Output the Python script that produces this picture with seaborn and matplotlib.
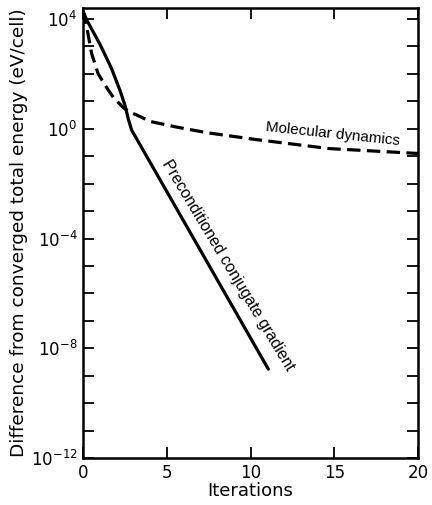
import numpy as np
import pandas as pd
import seaborn as sns
import matplotlib.pyplot as plt
from matplotlib.ticker import FixedLocator, FuncFormatter

# Values (energy difference in eV/cell)
cg_iter = [0.0, 0.22, 1.0, 1.7, 2.21, 2.51, 2.71, 2.9, 11.06]
cg_energy = [2.0e4, 9.3e3, 1.26e3, 1.6e2, 2.5e1, 7.1e0, 2.24e0, 9.1e-1,
             1.74e-9]

md_iter = [0.0, 0.22, 0.52, 0.91, 1.41, 1.81, 2.41, 2.8, 3.2, 4.0, 5.6, 7.4,
           10.4, 14.7, 20.0]
md_energy = [2.0e4, 5.4e3, 5.5e2, 1.0e2, 3.2e1, 1.4e1, 5.9e0, 4.0e0, 3.2e0,
             1.86e0, 1.15e0, 7.2e-1, 4.0e-1, 1.9e-1, 1.26e-1]

y_label_decades = [4, 0, -4, -8, -12]

cg = pd.DataFrame({'Iterations': cg_iter, 'Energy': cg_energy})
md = pd.DataFrame({'Iterations': md_iter, 'Energy': md_energy})

sns.set_style('ticks')
plt.rcParams['font.family'] = ['DejaVu Sans']
plt.rcParams['text.color'] = 'black'
plt.rcParams['axes.labelcolor'] = 'black'
plt.rcParams['xtick.color'] = 'black'
plt.rcParams['ytick.color'] = 'black'

fig = plt.figure(figsize=(4.32, 5.05), dpi=100)
ax = fig.add_axes([0.192, 0.093, 0.776, 0.891])

sns.lineplot(data=md, x='Iterations', y='Energy', ax=ax, color='black',
             linewidth=2.3)
ax.lines[-1].set_dashes([4.2, 2.0])
sns.lineplot(data=cg, x='Iterations', y='Energy', ax=ax, color='black',
             linewidth=2.3)

ax.set_yscale('log')
ax.set_xlim(0, 20)
ax.set_ylim(1e-12, 10 ** 4.4)
ax.set_xticks([0, 5, 10, 15, 20])
ax.yaxis.set_major_locator(FixedLocator([10.0 ** k for k in range(-12, 5)]))
ax.yaxis.set_minor_locator(FixedLocator([]))
ax.yaxis.set_major_formatter(FuncFormatter(
    lambda v, p: '$10^{%d}$' % round(np.log10(v))
    if round(np.log10(v)) in y_label_decades else ''))

ax.tick_params(direction='in', length=8, width=1.3, top=True, right=True,
               labelsize=12, pad=4)
for s in ax.spines.values():
    s.set_linewidth(1.8)
    s.set_color('black')

ax.set_xlabel('Iterations', fontsize=13, labelpad=0)
ax.set_ylabel('Difference from converged total energy (eV/cell)',
              fontsize=13.3, labelpad=2)

ax.text(14.9, 10 ** -0.2, 'Molecular dynamics', fontsize=11, rotation=-6,
        ha='center', va='center', family='Liberation Sans')
ax.text(8.66, 10 ** -4.96, 'Preconditioned conjugate gradient', fontsize=11.5,
        rotation=-59, ha='center', va='center',
        family=['Liberation Sans Narrow', 'Liberation Sans'])

fig.savefig('out.png', dpi=100)
